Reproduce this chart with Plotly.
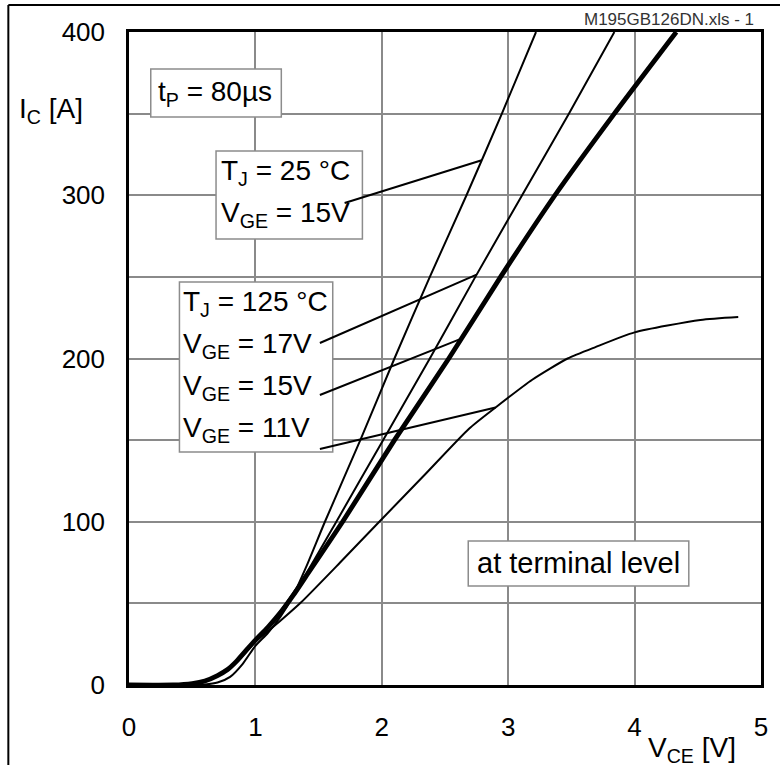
import numpy as np
import plotly.graph_objects as go

# ---- data ----
# T_J = 25 °C, V_GE = 15 V
v_25_15 = [0, 0.5, 0.6, 0.7, 0.8, 0.9, 1.0, 1.1, 1.2, 1.3, 1.4, 1.55, 1.83, 2.10, 2.38, 2.67, 2.95, 3.22]
i_25_15 = [0, 0, 0.3, 1.5, 5, 13, 24, 32, 42, 55, 72, 100, 150, 200, 250, 300, 350, 400]
# T_J = 125 °C, V_GE = 17 V
v_125_17 = [0, 0.35, 0.5, 0.6, 0.7, 0.78, 0.85, 0.93, 1.0, 1.1, 1.2, 1.3, 1.4, 1.64, 2.01, 2.38, 2.74, 3.11, 3.48, 3.84]
i_125_17 = [0, 0, 0.8, 2.3, 5.5, 9.2, 14, 21, 27, 35.5, 45.5, 56.5, 68, 100, 150, 200, 250, 300, 350, 400]
# T_J = 125 °C, V_GE = 15 V (bold)
v_125_15 = [0, 0.35, 0.5, 0.6, 0.7, 0.78, 0.85, 0.93, 1.0, 1.1, 1.2, 1.3, 1.4, 1.69, 2.10, 2.53, 2.94, 3.37, 3.84, 4.33]
i_125_15 = [0, 0, 0.9, 2.5, 5.8, 9.5, 14.5, 21.5, 27.5, 35.5, 44.5, 55, 66.5, 100, 150, 200, 250, 300, 350, 400]
# T_J = 125 °C, V_GE = 11 V
v_125_11 = [0, 0.35, 0.5, 0.6, 0.7, 0.78, 0.85, 0.93, 1.0, 1.1, 1.2, 1.36, 1.67, 1.98, 2.33, 2.69, 2.90, 3.19, 3.47, 3.69, 4.0, 4.52, 4.82]
i_125_11 = [0, 0, 0.8, 2.3, 5.5, 9, 14, 20.5, 26.5, 33, 39.5, 50.5, 75, 100, 128, 157, 170, 187, 200, 207, 216, 223.6, 225.4]

x_ticks = [0, 1, 2, 3, 4, 5]
y_ticks = [0, 100, 200, 300, 400]
y_minor_step = 50

# ---- layout helpers (window pixel -> axis / paper coordinates) ----
L, R, T, B = 129, 12, 32, 80
W, H = 780, 765
PW, PH = W - L - R, H - T - B
def dx(px):
    return (px - L) / PW * 5.0
def dy(py):
    return ((T + PH) - py) / PH * 400.0
def pxp(px):
    return (px - L) / PW
def pyp(py):
    return (T + PH - py) / PH

FONT = "Liberation Sans, Arial, Helvetica, sans-serif"

fig = go.Figure()
curves = [
    (v_25_15, i_25_15, 2.0),
    (v_125_17, i_125_17, 2.0),
    (v_125_11, i_125_11, 2.0),
    (v_125_15, i_125_15, 4.8),
]
for v, i, w in curves:
    fig.add_trace(go.Scatter(x=v, y=i, mode="lines",
                             line=dict(color="black", width=w, shape="spline", smoothing=0.6),
                             hoverinfo="skip", showlegend=False))

shapes = []
annotations = []

# outer frame (left and top edges)
shapes.append(dict(type="line", xref="paper", yref="paper", x0=pxp(7), y0=pyp(5), x1=pxp(790), y1=pyp(5),
                   line=dict(color="black", width=2)))
shapes.append(dict(type="line", xref="paper", yref="paper", x0=pxp(7), y0=pyp(5), x1=pxp(7), y1=pyp(775),
                   line=dict(color="black", width=2)))

def box(x0, y0, x1, y1):
    shapes.append(dict(type="rect", xref="x", yref="y", x0=dx(x0), y0=dy(y0), x1=dx(x1), y1=dy(y1),
                       line=dict(color="#8c8c8c", width=1.5), fillcolor="white", layer="above"))

def text(x, y, s, size=28, anchor="left"):
    annotations.append(dict(xref="x", yref="y", x=dx(x), y=dy(y), text=s, showarrow=False,
                            xanchor=anchor, yanchor="middle", font=dict(family=FONT, size=size, color="black")))

def leader(x0, y0, v_end, vs, is_):
    shapes.append(dict(type="line", xref="x", yref="y", x0=dx(x0), y0=dy(y0),
                       x1=v_end, y1=float(np.interp(v_end, vs, is_)),
                       line=dict(color="black", width=2), layer="above"))

box(151, 69, 283, 117)
text(156, 93, "t<sub>P</sub> = 80µs")

box(217, 151, 365, 239)
text(220, 172, "T<sub>J</sub> = 25 °C")
text(220, 214, "V<sub>GE</sub> = 15V")

box(180, 282, 335, 452)
text(182, 303, "T<sub>J</sub> = 125 °C")
text(182, 345, "V<sub>GE</sub> = 17V")
text(182, 387, "V<sub>GE</sub> = 15V")
text(182, 429, "V<sub>GE</sub> = 11V")

box(472, 541, 695, 586)
text(479, 563, "at terminal level", size=29)

leader(347, 203, 2.79, v_25_15, i_25_15)
leader(322, 343, 2.75, v_125_17, i_125_17)
leader(322, 395, 2.63, v_125_15, i_125_15)
leader(322, 449, 2.90, v_125_11, i_125_11)

annotations.append(dict(xref="paper", yref="paper", x=pxp(16), y=pyp(110), text="I<sub>C</sub> [A]",
                        showarrow=False, xanchor="left", yanchor="middle",
                        font=dict(family=FONT, size=28, color="black")))
annotations.append(dict(xref="paper", yref="paper", x=pxp(652), y=pyp(749), text="V<sub>CE</sub> [V]",
                        showarrow=False, xanchor="left", yanchor="middle",
                        font=dict(family=FONT, size=28, color="black")))
annotations.append(dict(xref="paper", yref="paper", x=pxp(763), y=pyp(20), text="M195GB126DN.xls - 1",
                        showarrow=False, xanchor="right", yanchor="middle",
                        font=dict(family=FONT, size=17, color="#333333")))

grid = dict(showgrid=True, gridcolor="#8a8a8a", gridwidth=1.5)
fig.update_layout(
    width=W, height=H,
    margin=dict(l=L, r=R, t=T, b=B, pad=0),
    paper_bgcolor="white", plot_bgcolor="white",
    shapes=shapes, annotations=annotations,
    font=dict(family=FONT, size=26, color="black"),
    xaxis=dict(range=[0, 5], tickvals=x_ticks, ticktext=[str(t) for t in x_ticks],
               showline=True, mirror=True, linecolor="black", linewidth=2.5,
               ticks="", zeroline=False, ticklabelstandoff=17,
               tickfont=dict(family=FONT, size=26, color="black"), **grid),
    yaxis=dict(range=[0, 400], tickvals=y_ticks, ticktext=[str(t) for t in y_ticks],
               minor=dict(dtick=y_minor_step, showgrid=True, gridcolor="#8a8a8a", gridwidth=1.5, ticks=""),
               showline=True, mirror=True, linecolor="black", linewidth=2.5,
               ticks="", zeroline=False, ticklabelstandoff=16,
               tickfont=dict(family=FONT, size=26, color="black"), **grid),
)

fig.write_html("out.html", config={"displayModeBar": False},
               post_script="document.body.style.margin='0';document.body.style.overflow='hidden';")
